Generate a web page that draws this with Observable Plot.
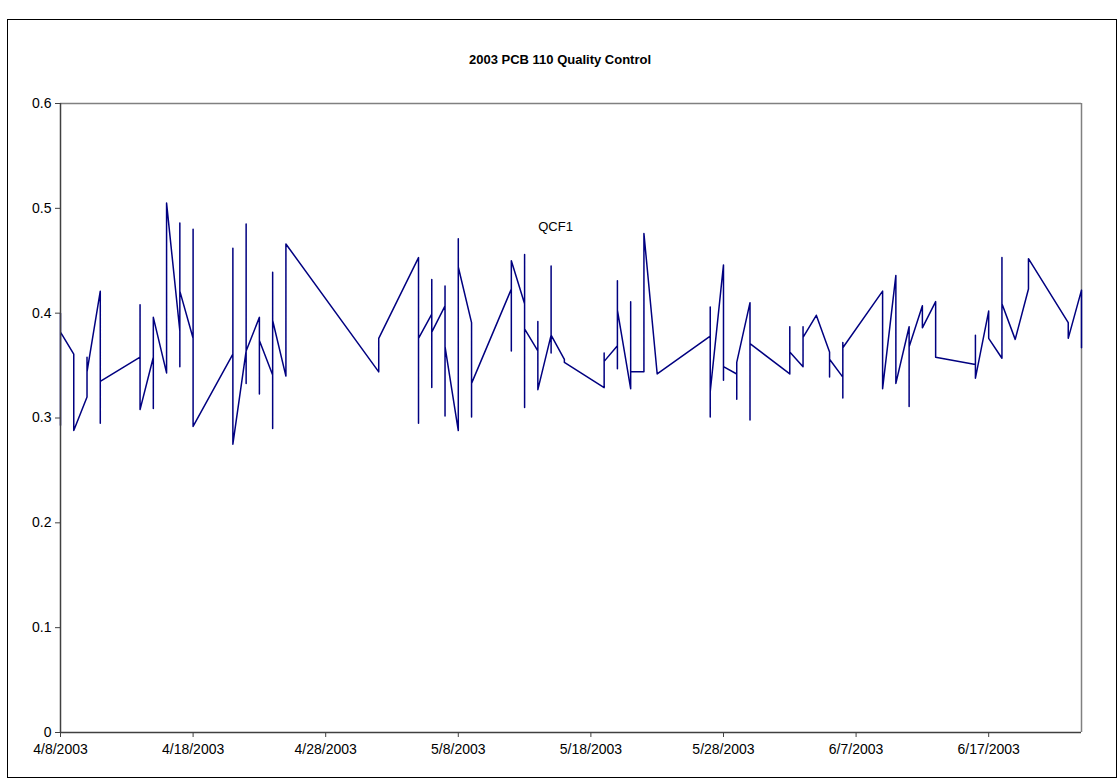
<!DOCTYPE html>
<html><head><meta charset="utf-8">
<script src="https://cdn.jsdelivr.net/npm/d3@7"></script>
<script src="https://cdn.jsdelivr.net/npm/@observablehq/plot@0.6"></script>
<style>
body{margin:0;background:#fff;font-family:"Liberation Sans",Arial,sans-serif;}
#wrap{position:relative;width:1120px;height:779px;overflow:hidden;background:#fff;}
#frame{position:absolute;left:7px;top:19px;width:1110px;height:759px;border:1px solid #000;box-sizing:border-box;pointer-events:none;}
#title{position:absolute;top:52px;left:0;width:1120px;text-align:center;font-weight:bold;font-size:13px;color:#000;}
#chart{position:absolute;left:0;top:80px;}
</style></head>
<body>
<div id="wrap"><div id="frame"></div><div id="title">2003 PCB 110 Quality Control</div><div id="chart"></div></div>
<script>
const seriesName = "QCF1";
const sampleDates = [
"2003-04-08","2003-04-08","2003-04-08",
"2003-04-09","2003-04-09",
"2003-04-10","2003-04-10","2003-04-10",
"2003-04-11","2003-04-11","2003-04-11",
"2003-04-14","2003-04-14","2003-04-14",
"2003-04-15","2003-04-15","2003-04-15",
"2003-04-16","2003-04-16","2003-04-16","2003-04-16",
"2003-04-17","2003-04-17","2003-04-17","2003-04-17",
"2003-04-18","2003-04-18","2003-04-18",
"2003-04-21","2003-04-21","2003-04-21","2003-04-21","2003-04-21",
"2003-04-22","2003-04-22","2003-04-22","2003-04-22",
"2003-04-23","2003-04-23","2003-04-23",
"2003-04-24","2003-04-24","2003-04-24","2003-04-24",
"2003-04-25","2003-04-25",
"2003-05-02","2003-05-02",
"2003-05-05","2003-05-05","2003-05-05",
"2003-05-06","2003-05-06","2003-05-06","2003-05-06",
"2003-05-07","2003-05-07","2003-05-07","2003-05-07",
"2003-05-08","2003-05-08","2003-05-08",
"2003-05-09","2003-05-09","2003-05-09",
"2003-05-12","2003-05-12","2003-05-12",
"2003-05-13","2003-05-13","2003-05-13","2003-05-13",
"2003-05-14","2003-05-14","2003-05-14",
"2003-05-15","2003-05-15","2003-05-15","2003-05-15",
"2003-05-16","2003-05-16",
"2003-05-19","2003-05-19","2003-05-19",
"2003-05-20","2003-05-20","2003-05-20","2003-05-20",
"2003-05-21","2003-05-21","2003-05-21",
"2003-05-22","2003-05-22",
"2003-05-23",
"2003-05-27","2003-05-27","2003-05-27","2003-05-27",
"2003-05-28","2003-05-28","2003-05-28",
"2003-05-29","2003-05-29","2003-05-29",
"2003-05-30","2003-05-30","2003-05-30",
"2003-06-02","2003-06-02","2003-06-02",
"2003-06-03","2003-06-03","2003-06-03",
"2003-06-04",
"2003-06-05","2003-06-05","2003-06-05",
"2003-06-06","2003-06-06","2003-06-06","2003-06-06",
"2003-06-09","2003-06-09",
"2003-06-10","2003-06-10",
"2003-06-11","2003-06-11","2003-06-11",
"2003-06-12","2003-06-12",
"2003-06-13","2003-06-13",
"2003-06-16","2003-06-16","2003-06-16",
"2003-06-17","2003-06-17",
"2003-06-18","2003-06-18","2003-06-18",
"2003-06-19",
"2003-06-20","2003-06-20",
"2003-06-23","2003-06-23",
"2003-06-24","2003-06-24"
];
const qcf1Values = [
0.293,0.400,0.382,
0.361,0.288,
0.320,0.358,0.344,
0.421,0.295,0.335,
0.358,0.408,0.308,
0.358,0.309,0.396,
0.343,0.385,0.356,0.505,
0.383,0.486,0.349,0.421,
0.376,0.480,0.292,
0.361,0.462,0.328,0.444,0.275,
0.364,0.485,0.333,0.364,
0.396,0.323,0.374,
0.341,0.439,0.290,0.393,
0.340,0.466,
0.344,0.376,
0.453,0.295,0.376,
0.399,0.432,0.329,0.382,
0.407,0.426,0.302,0.368,
0.288,0.471,0.444,
0.391,0.301,0.333,
0.423,0.364,0.450,
0.409,0.456,0.310,0.385,
0.364,0.392,0.327,
0.379,0.445,0.362,0.379,
0.356,0.353,
0.329,0.362,0.354,
0.369,0.431,0.347,0.403,
0.328,0.411,0.344,
0.344,0.476,
0.342,
0.378,0.406,0.301,0.325,
0.446,0.336,0.349,
0.342,0.318,0.353,
0.410,0.298,0.371,
0.342,0.387,0.363,
0.349,0.387,0.377,
0.398,
0.363,0.339,0.356,
0.339,0.319,0.372,0.367,
0.421,0.328,
0.436,0.333,
0.387,0.311,0.368,
0.407,0.386,
0.411,0.358,
0.351,0.379,0.338,
0.402,0.376,
0.357,0.453,0.409,
0.375,
0.423,0.452,
0.391,0.376,
0.422,0.367
];
const xDomain = ["2003-04-08","2003-06-24"];
const xTickDates = ["2003-04-08","2003-04-18","2003-04-28","2003-05-08","2003-05-18","2003-05-28","2003-06-07","2003-06-17"];
const yTicks = [0,0.1,0.2,0.3,0.4,0.5,0.6];
const labelPos = {date:"2003-05-15T08:00:00Z", value:0.482};

const toDate = s => new Date(s.length > 10 ? s : s + "T00:00:00Z");
const data = sampleDates.map((d,i)=>({date:toDate(d), value:qcf1Values[i]}));
const start = toDate(xDomain[0]), end = toDate(xDomain[1]);

const chart = Plot.plot({
  width:1120, height:699,
  marginLeft:60, marginRight:39, marginTop:23, marginBottom:47,
  style:{fontFamily:"'Liberation Sans', Arial, sans-serif", fontSize:"14px", color:"#000", background:"transparent", overflow:"visible"},
  x:{type:"utc", domain:[start,end]},
  y:{domain:[0,0.6]},
  marks:[
    Plot.ruleY([0.6],{stroke:"#808080", strokeWidth:1.5}),
    Plot.ruleX([end],{stroke:"#808080", strokeWidth:1.5}),
    Plot.line(data,{x:"date", y:"value", stroke:"#000080", strokeWidth:1.5}),
    Plot.ruleX([start],{stroke:"#404040", strokeWidth:1.5}),
    Plot.ruleY([0],{stroke:"#404040", strokeWidth:1.5}),
    Plot.axisY({ticks:yTicks, tickSize:5, tickPadding:4, tickFormat:d=>String(d), label:null, stroke:"#404040", fill:"#000", fontSize:14}),
    Plot.axisX({ticks:xTickDates.map(toDate), tickSize:5, tickPadding:7, tickFormat:d3.utcFormat("%-m/%-d/%Y"), label:null, stroke:"#404040", fill:"#000", fontSize:14}),
    Plot.text([labelPos],{x:d=>toDate(d.date), y:"value", text:()=>seriesName, fill:"#000", fontSize:13})
  ]
});
document.getElementById("chart").appendChild(chart);
</script>
</body></html>
